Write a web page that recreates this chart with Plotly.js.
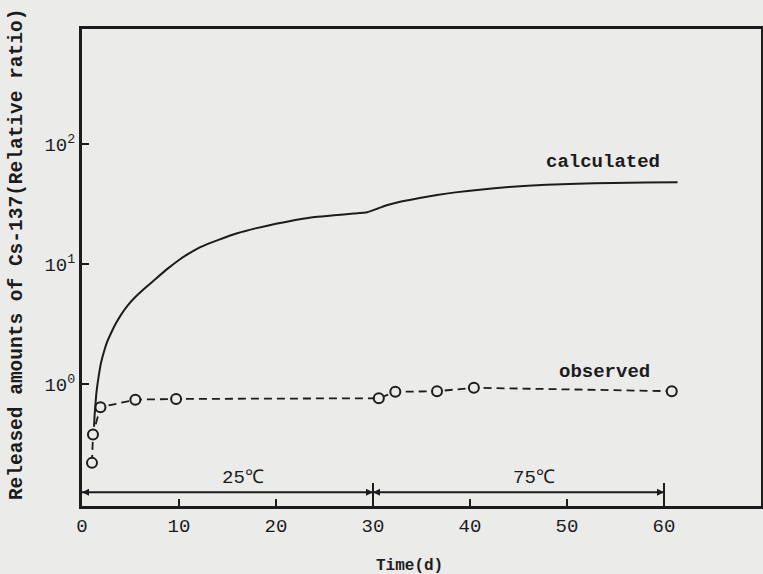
<!DOCTYPE html>
<html>
<head>
<meta charset="utf-8">
<script src="https://cdn.plot.ly/plotly-3.0.1.min.js"></script>
<style>html,body{margin:0;padding:0;background:#ebebea;}</style>
</head>
<body>
<div id="chart" style="width:763px;height:574px;"></div>
<script>
// Calculated release curve (time in days, relative ratio)
const calcTime = [1.24, 1.3, 1.4, 1.48, 1.6, 1.75, 1.96, 2.3, 2.6, 3.0, 3.5, 4.0, 4.7, 5.5, 6.5, 7.5, 8.8, 10.0, 11.0, 12.2, 14.0, 16.0, 18.0, 20.0, 22.0, 24.0, 26.0, 28.0, 29.4, 30.5, 31.5, 32.8, 34.8, 36.6, 38.5, 41.0, 44.0, 47.9, 51.0, 54.7, 58.0, 61.4];
const calcValue = [0.44, 0.55, 0.7, 0.84, 1.0, 1.2, 1.5, 1.9, 2.25, 2.66, 3.2, 3.75, 4.5, 5.3, 6.3, 7.4, 9.1, 10.8, 12.2, 13.8, 15.8, 18.0, 19.9, 21.6, 23.2, 24.6, 25.5, 26.3, 27.0, 29.0, 31.0, 33.0, 35.5, 37.6, 39.5, 41.5, 43.8, 45.7, 46.7, 47.3, 47.8, 48.0];

// Observed release
const obsTime = [1.03, 1.13, 1.9, 5.5, 9.7, 30.6, 32.3, 36.6, 40.4, 60.8];
const obsValue = [0.22, 0.38, 0.64, 0.74, 0.75, 0.76, 0.86, 0.87, 0.93, 0.87];

// Axis ticks
const xTicks = [0, 10, 20, 30, 40, 50, 60];
const xTickText = ['0', '10', '20', '30', '40', '50', '60'];
const yTicks = [1, 10, 100];
const yTickText = ['10<sup>0</sup>', '10<sup>1</sup>', '10<sup>2</sup>'];

// Temperature periods (days)
const periodStart = [0, 30];
const periodEnd = [30, 60];
const periodLabel = ['25\u2103', '75\u2103'];

const ink = '#1c1c1c';
const bg = '#ebebea';
const mono = "'Liberation Mono', 'Courier New', 'DejaVu Sans Mono', monospace";
const arrowLevel = 0.125;

const traces = [
  {
    x: calcTime, y: calcValue, type: 'scatter', mode: 'lines', name: 'calculated',
    line: {color: ink, width: 2, shape: 'spline', smoothing: 0.4}
  },
  {
    x: obsTime, y: obsValue, type: 'scatter', mode: 'lines+markers', name: 'observed',
    line: {color: ink, width: 1.8, dash: '8px,5px'},
    marker: {symbol: 'circle', size: 10, color: bg, line: {color: ink, width: 2}}
  }
];
for (let i = 0; i < periodStart.length; i++) {
  traces.push({
    x: [periodStart[i], periodEnd[i]], y: [arrowLevel, arrowLevel],
    type: 'scatter', mode: 'lines+markers', name: periodLabel[i], cliponaxis: false,
    line: {color: ink, width: 2},
    marker: {symbol: ['arrow-left', 'arrow-right'], size: 7, color: ink, line: {width: 0}},
    hoverinfo: 'skip'
  });
}

const annotations = [
  {x: 53.7, y: 0.722, xref: 'x', yref: 'paper', xanchor: 'center', yanchor: 'middle',
   text: 'calculated', showarrow: false,
   font: {family: mono, size: 19, color: ink, weight: 'bold'}},
  {x: 53.9, y: 0.280, xref: 'x', yref: 'paper', xanchor: 'center', yanchor: 'middle',
   text: 'observed', showarrow: false,
   font: {family: mono, size: 19, color: ink, weight: 'bold'}},
  {x: -0.0957, y: 0.526, xref: 'paper', yref: 'paper', xanchor: 'center', yanchor: 'middle',
   textangle: -90, text: 'Released amounts of Cs-137(Relative ratio)', showarrow: false,
   font: {family: mono, size: 19.5, color: ink, weight: 'bold'}},
  {x: 33.8, y: -0.126, xref: 'x', yref: 'paper', xanchor: 'center', yanchor: 'middle',
   text: 'Time(d)', showarrow: false,
   font: {family: mono, size: 16, color: ink, weight: 'bold'}}
];
const shapes = [];
for (let i = 0; i < periodStart.length; i++) {
  annotations.push({
    x: (periodStart[i] + periodEnd[i]) / 2 + 1.6, y: 0.058, xref: 'x', yref: 'paper',
    xanchor: 'center', yanchor: 'middle',
    text: periodLabel[i], showarrow: false,
    font: {family: mono, size: 19, color: ink}
  });
  shapes.push({type: 'line', xref: 'x', yref: 'paper', x0: periodEnd[i], x1: periodEnd[i], y0: 0, y1: 0.048,
    line: {color: ink, width: 2}});
}

const layout = {
  width: 763, height: 574,
  margin: {l: 82, r: 2, t: 29, b: 68},
  paper_bgcolor: bg, plot_bgcolor: bg,
  showlegend: false,
  font: {family: mono, color: ink},
  xaxis: {
    range: [0, 70], tickvals: xTicks, ticktext: xTickText,
    ticks: 'inside', ticklen: 7, tickwidth: 2, tickcolor: ink,
    showline: true, linewidth: 3, linecolor: ink, mirror: true,
    showgrid: false, zeroline: false,
    tickfont: {family: mono, size: 19, color: ink}
  },
  yaxis: {
    type: 'log', range: [-1.017, 2.958], tickvals: yTicks, ticktext: yTickText,
    ticks: 'inside', ticklen: 7, tickwidth: 2, tickcolor: ink,
    showline: true, linewidth: 3, linecolor: ink, mirror: true,
    showgrid: false, zeroline: false,
    tickfont: {family: mono, size: 19, color: ink}
  },
  annotations: annotations,
  shapes: shapes
};

Plotly.newPlot('chart', traces, layout, {displayModeBar: false, staticPlot: true});
</script>
</body>
</html>
